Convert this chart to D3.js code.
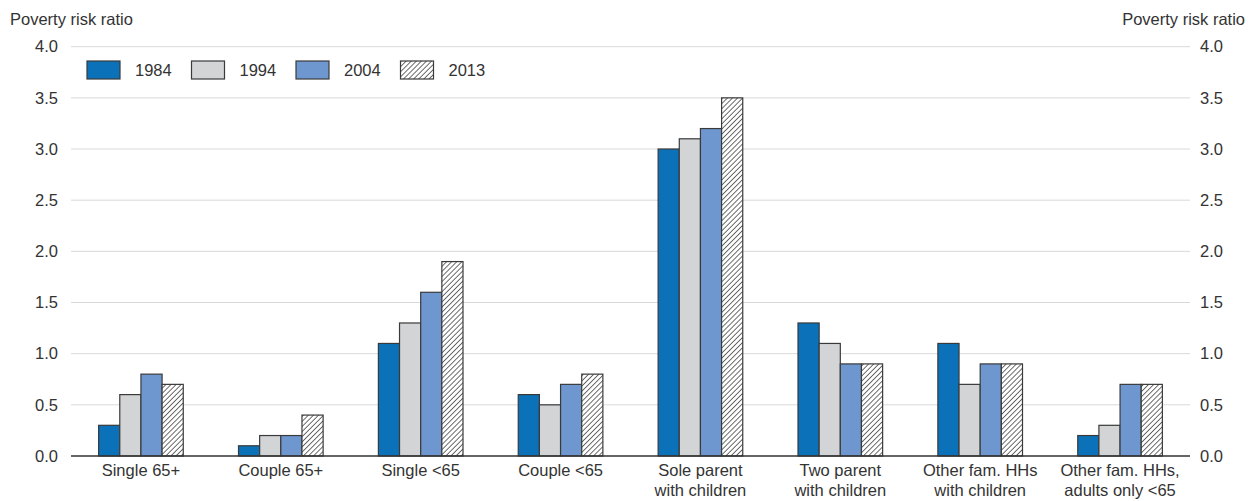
<!DOCTYPE html>
<html><head><meta charset="utf-8">
<script src="https://cdn.jsdelivr.net/npm/d3@7"></script>
<style>body{margin:0;background:#fff}svg{display:block;font-family:"Liberation Sans",Arial,sans-serif}</style>
</head><body><svg id="c" width="1248" height="501"></svg>
<script>
const categories = [["Single 65+"],["Couple 65+"],["Single <65"],["Couple <65"],["Sole parent","with children"],["Two parent","with children"],["Other fam. HHs","with children"],["Other fam. HHs,","adults only <65"]];
const years = ["1984","1994","2004","2013"];
const v1984 = [0.3,0.1,1.1,0.6,3.0,1.3,1.1,0.2];
const v1994 = [0.6,0.2,1.3,0.5,3.1,1.1,0.7,0.3];
const v2004 = [0.8,0.2,1.6,0.7,3.2,0.9,0.9,0.7];
const v2013 = [0.7,0.4,1.9,0.8,3.5,0.9,0.9,0.7];
const yTicks = [0,0.5,1,1.5,2,2.5,3,3.5,4];
const series = [v1984,v1994,v2004,v2013];
const fills = ["#0b72b9","#d3d4d6","#6e97cf","url(#hatch)"];
const FS = 16.5;

const svg = d3.select("#c");
const L=71, R=1190, T=46.7, B=456;
const defs = svg.append("defs");
const pat = defs.append("pattern").attr("id","hatch").attr("patternUnits","userSpaceOnUse").attr("width",3.6).attr("height",3.6).attr("patternTransform","rotate(45)");
pat.append("rect").attr("width",3.6).attr("height",3.6).attr("fill","#fff");
pat.append("line").attr("x1",0).attr("y1",0).attr("x2",0).attr("y2",3.6).attr("stroke","#2e2e2e").attr("stroke-width",1.4);

const x = d3.scaleBand().domain(d3.range(categories.length)).range([L,R]);
const y = d3.scaleLinear().domain([0,4]).range([B,T]);

svg.append("g").selectAll("line").data(yTicks.filter(d=>d>0)).join("line")
 .attr("x1",L).attr("x2",R).attr("y1",d=>y(d)).attr("y2",d=>y(d)).attr("stroke","#d9d9d9").attr("stroke-width",1);

const fmt = d3.format(".1f");
const gl = svg.append("g").attr("transform",`translate(${L},0)`).call(d3.axisLeft(y).tickValues(yTicks).tickFormat(fmt).tickSize(0).tickPadding(13));
gl.select(".domain").remove();
gl.selectAll("text").attr("font-size",FS).attr("fill","#333").attr("font-family","Liberation Sans, Arial, sans-serif");
const gr = svg.append("g").attr("transform",`translate(${R},0)`).call(d3.axisRight(y).tickValues(yTicks).tickFormat(fmt).tickSize(0).tickPadding(10));
gr.select(".domain").remove();
gr.selectAll("text").attr("font-size",FS).attr("fill","#333").attr("font-family","Liberation Sans, Arial, sans-serif");

const bw = x.bandwidth()*0.605/4;
series.forEach((s,si)=>{
  svg.append("g").selectAll("rect").data(s).join("rect")
   .attr("x",(d,i)=>x(i)+x.bandwidth()/2-2*bw+si*bw)
   .attr("y",d=>y(d)).attr("width",bw).attr("height",d=>y(0)-y(d))
   .attr("fill",fills[si]).attr("stroke","#3a3a3a").attr("stroke-width",1.2);
});

svg.append("line").attr("x1",L).attr("x2",R).attr("y1",y(0)).attr("y2",y(0)).attr("stroke","#333").attr("stroke-width",1.5);

const cl = svg.append("g").selectAll("text").data(categories).join("text")
 .attr("x",(d,i)=>x(i)+x.bandwidth()/2).attr("y",476).attr("text-anchor","middle")
 .attr("font-size",FS).attr("fill","#333");
cl.each(function(d){
  d3.select(this).selectAll("tspan").data(d).join("tspan").attr("x",d3.select(this).attr("x")).attr("dy",(t,j)=>j?19.5:0).text(t=>t);
});

svg.append("text").attr("x",10).attr("y",25).attr("font-size",FS).attr("fill","#333").text("Poverty risk ratio");
svg.append("text").attr("x",1245).attr("y",25).attr("text-anchor","end").attr("font-size",FS).attr("fill","#333").text("Poverty risk ratio");

const lg = svg.append("g").selectAll("g").data(years).join("g").attr("transform",(d,i)=>`translate(${87+i*104.5},61)`);
lg.append("rect").attr("width",33).attr("height",18).attr("fill",(d,i)=>fills[i]).attr("stroke","#3a3a3a").attr("stroke-width",1.2);
lg.append("text").attr("x",48).attr("y",15).attr("font-size",FS).attr("fill","#333").text(d=>d);
</script></body></html>
